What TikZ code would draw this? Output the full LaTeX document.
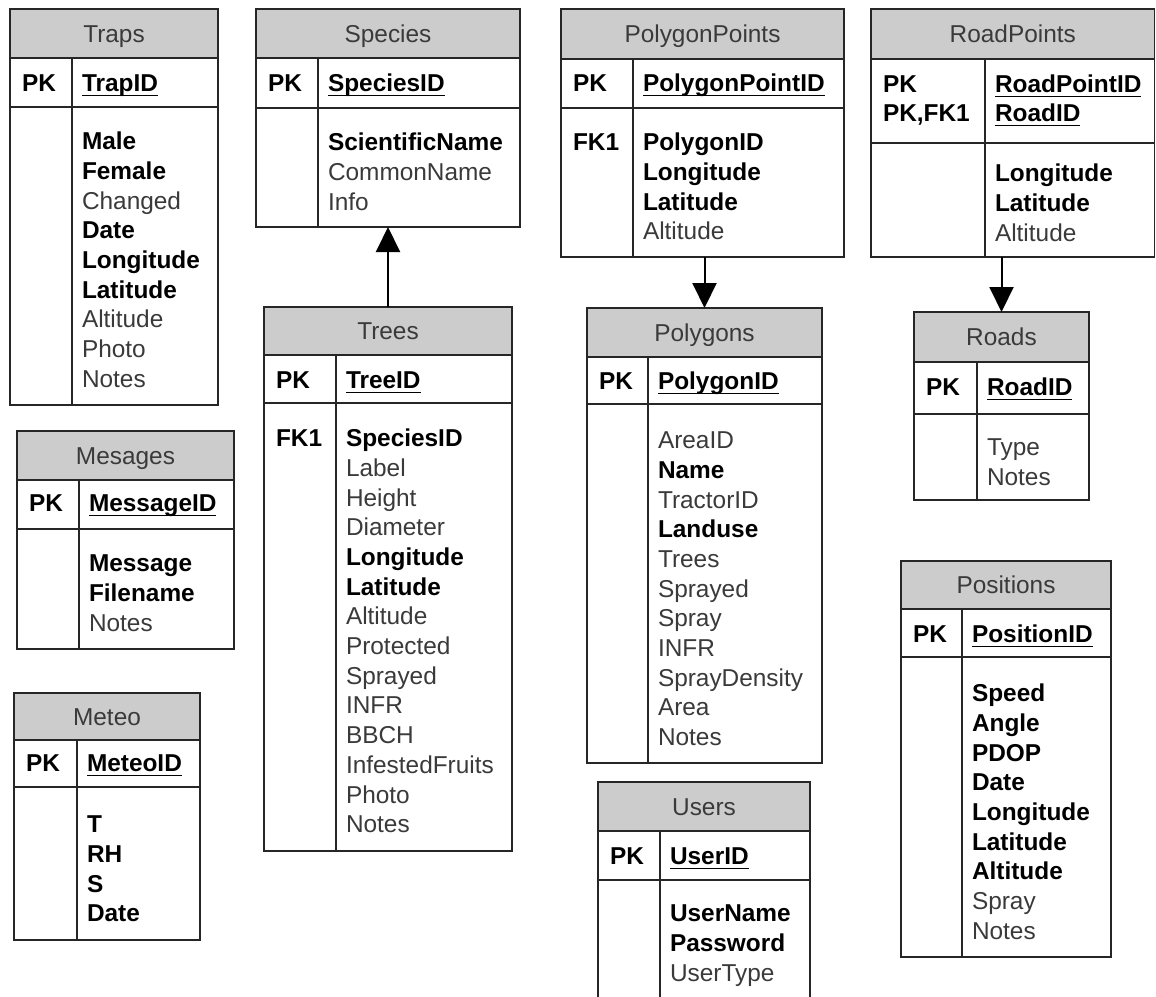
\documentclass[tikz,border=0pt]{standalone}
\usepackage{fontspec}
\setmainfont{Liberation Sans}
\usetikzlibrary{arrows.meta,fit}

\definecolor{hdrgray}{HTML}{CCCCCC}
\definecolor{txtgray}{HTML}{3A3A3A}
\definecolor{linegray}{HTML}{262626}

% field styles: mandatory (bold) and optional (regular)
\newcommand\bfield[1]{{\bfseries\color{black}#1}}
\newcommand\rfield[1]{{\color{txtgray}#1}}
% primary key underline at a fixed distance below the baseline
\newcommand\keyline[1]{\setbox0\hbox{#1}\rlap{\rule[-4.5pt]{\wd0}{1.3pt}}\box0}

\tikzset{
  tbl/.style={draw=linegray, line width=1.4pt, inner sep=0pt, outer sep=0pt, rectangle},
  hdr/.style={tbl, fill=hdrgray},
  celltext/.style={inner sep=0pt, outer sep=0pt, font=\fontsize{24.4}{28}\selectfont},
  tabletitle/.style={celltext, text=txtgray, anchor=base},
  keylab/.style={celltext, font=\fontsize{24.4}{28}\selectfont\bfseries, anchor=base west},
  fieldtext/.style={celltext, anchor=base west},
  tblrule/.style={draw=linegray, line width=1.4pt},
  fkarrow/.style={draw=black, line width=2pt, -{Triangle[width=24pt,length=25pt]}}
}

% name, left, top, right, header bottom, key-row bottom, column divider, bottom, title
\newcommand\tablebox[9]{%
  \node[hdr, fit={(#2,#3)(#4,#5)}] (#1-head) {};
  \node[tbl, fit={(#2,#3)(#4,#8)}] (#1) {};
  \node[tabletitle] (#1-title) at ({(#2+#4)/2},{(#3+#5)/2+8.6}) {#9};
  \draw[tblrule] (#2,#6) -- (#4,#6);
  \draw[tblrule] (#7,#5) -- (#7,#8);
}
% name, left, divider, row centre, key label, key field
\newcommand\keyrow[6]{%
  \node[keylab] (#1-pk) at ({#2+12},{#4+8.6}) {#5};
  \node[fieldtext] (#1-id) at ({#3+10},{#4+8.6}) {\keyline{\bfield{#6}}};
}
% name, left, row centre, label
\newcommand\fklabel[4]{%
  \node[keylab] (#1-fk) at ({#2+12},{#3+8.6}) {#4};
}
% name, divider, first row centre, list of fields
\newcommand\fieldrows[4]{%
  \foreach \fld [count=\i] in {#4} {
    \node[fieldtext] (#1-f\i) at ({#2+10},{#3+(\i-1)*29.7+8.6}) {\fld};
  }
}

\begin{document}
\begin{tikzpicture}[x=1pt,y=-1pt]
\useasboundingbox (0,0) rectangle (1156,996);
\clip (0,0) rectangle (1156,996);
\fill[white] (0,0) rectangle (1156,996);

% Traps
\tablebox{traps}{10}{9}{218}{58}{107}{72}{405}{Traps}
\keyrow{traps}{10}{72}{83}{PK}{TrapID}
\fieldrows{traps}{72}{141}{\bfield{Male},\bfield{Female},\rfield{Changed},\bfield{Date},\bfield{Longitude},\bfield{Latitude},\rfield{Altitude},\rfield{Photo},\rfield{Notes}}

% Species
\tablebox{species}{256}{9}{520}{58}{108}{318}{227}{Species}
\keyrow{species}{256}{318}{83}{PK}{SpeciesID}
\fieldrows{species}{318}{142}{\bfield{ScientificName},\rfield{CommonName},\rfield{Info}}

% PolygonPoints
\tablebox{polypoints}{561}{9}{844}{59}{108}{633}{257}{PolygonPoints}
\keyrow{polypoints}{561}{633}{83}{PK}{PolygonPointID}
\fklabel{polypoints}{561}{142}{FK1}
\fieldrows{polypoints}{633}{142}{\bfield{PolygonID},\bfield{Longitude},\bfield{Latitude},\rfield{Altitude}}

% RoadPoints
\tablebox{roadpoints}{871}{9}{1154.5}{59}{143}{985}{257}{RoadPoints}
\keyrow{roadpoints}{871}{985}{84}{PK}{RoadPointID}
\keyrow{roadpoints-b}{871}{985}{113}{PK,FK1}{RoadID}
\fieldrows{roadpoints}{985}{173}{\bfield{Longitude},\bfield{Latitude},\rfield{Altitude}}

% Roads
\tablebox{roads}{914}{312}{1089}{362}{414}{977}{500}{Roads}
\keyrow{roads}{914}{977}{387}{PK}{RoadID}
\fieldrows{roads}{977}{447}{\rfield{Type},\rfield{Notes}}

% Trees
\tablebox{trees}{264}{307}{512}{355}{403}{336}{851}{Trees}
\keyrow{trees}{264}{336}{380}{PK}{TreeID}
\fklabel{trees}{264}{438}{FK1}
\fieldrows{trees}{336}{438}{\bfield{SpeciesID},\rfield{Label},\rfield{Height},\rfield{Diameter},\bfield{Longitude},\bfield{Latitude},\rfield{Altitude},\rfield{Protected},\rfield{Sprayed},\rfield{INFR},\rfield{BBCH},\rfield{InfestedFruits},\rfield{Photo},\rfield{Notes}}

% Polygons
\tablebox{polygons}{587}{308}{822}{357}{404}{648}{763}{Polygons}
\keyrow{polygons}{587}{648}{381}{PK}{PolygonID}
\fieldrows{polygons}{648}{440}{\rfield{AreaID},\bfield{Name},\rfield{TractorID},\bfield{Landuse},\rfield{Trees},\rfield{Sprayed},\rfield{Spray},\rfield{INFR},\rfield{SprayDensity},\rfield{Area},\rfield{Notes}}

% Users (runs past the lower edge)
\tablebox{users}{598}{782}{810}{831}{880}{660}{1010}{Users}
\keyrow{users}{598}{660}{856}{PK}{UserID}
\fieldrows{users}{660}{913}{\bfield{UserName},\bfield{Password},\rfield{UserType}}

% Mesages
\tablebox{mesages}{17}{431}{234}{480}{529}{79}{649}{Mesages}
\keyrow{mesages}{17}{79}{503}{PK}{MessageID}
\fieldrows{mesages}{79}{563}{\bfield{Message},\bfield{Filename},\rfield{Notes}}

% Meteo
\tablebox{meteo}{14}{693}{200}{740}{787}{77}{940}{Meteo}
\keyrow{meteo}{14}{77}{763}{PK}{MeteoID}
\fieldrows{meteo}{77}{824}{\bfield{T},\bfield{RH},\bfield{S},\bfield{Date}}

% Positions
\tablebox{positions}{901}{561}{1111}{609}{657}{962}{957}{Positions}
\keyrow{positions}{901}{962}{634}{PK}{PositionID}
\fieldrows{positions}{962}{693}{\bfield{Speed},\bfield{Angle},\bfield{PDOP},\bfield{Date},\bfield{Longitude},\bfield{Latitude},\bfield{Altitude},\rfield{Spray},\rfield{Notes}}

% foreign-key relations
\draw[fkarrow] (species.south |- trees.north) -- (species.south);
\draw[fkarrow] (polypoints.south -| polygons.north) -- (polygons.north);
\draw[fkarrow] (roadpoints.south -| roads.north) -- (roads.north);
\end{tikzpicture}
\end{document}
